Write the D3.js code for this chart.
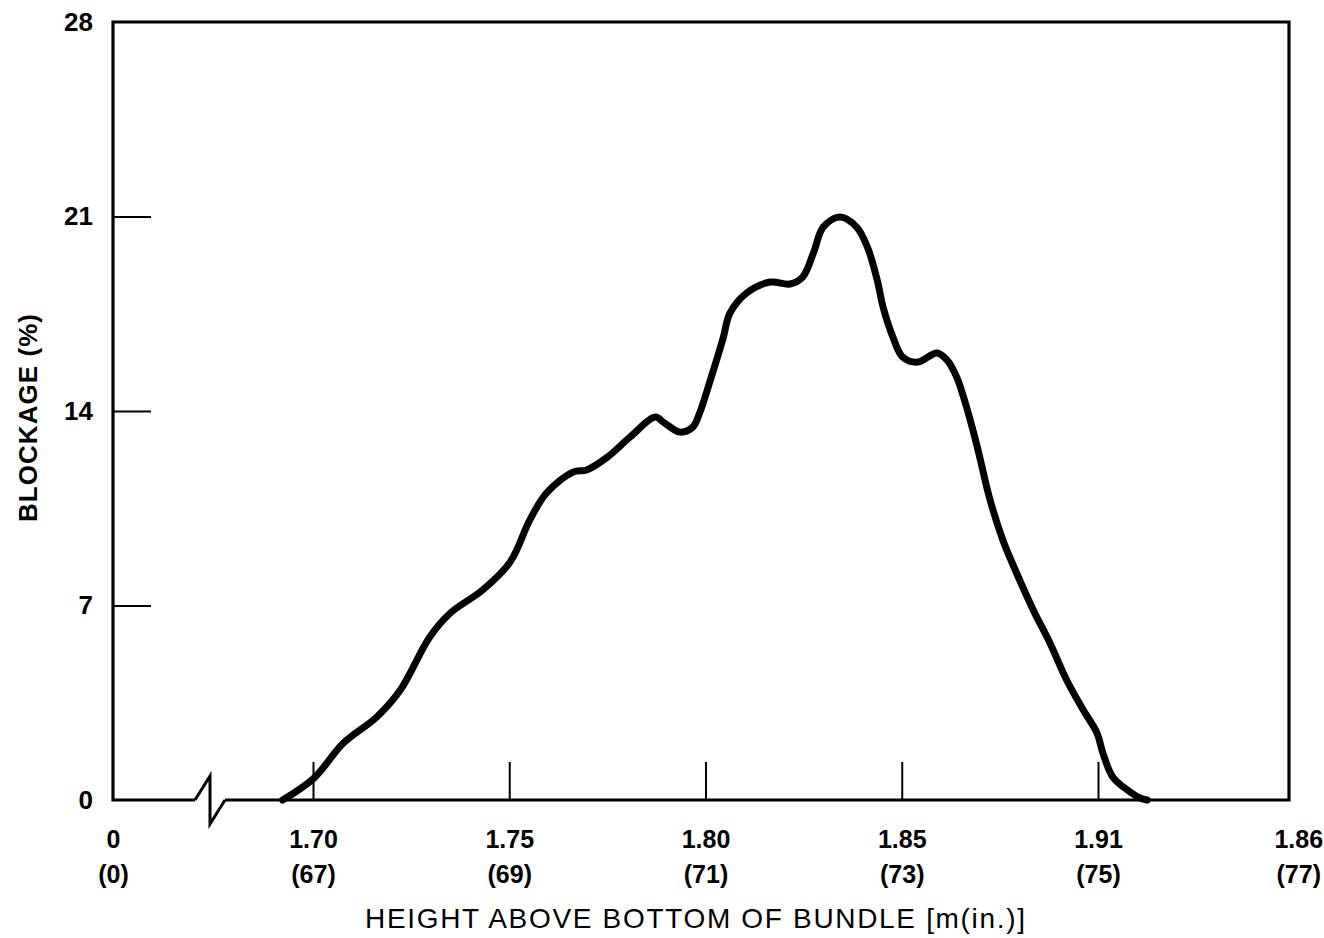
<!DOCTYPE html>
<html>
<head>
<meta charset="utf-8">
<script src="https://cdn.jsdelivr.net/npm/d3@7"></script>
<style>
  html, body { margin: 0; padding: 0; background: #fff; }
  svg { display: block; }
  text { font-family: "Liberation Sans", Arial, Helvetica, sans-serif; fill: #000; }
</style>
</head>
<body>
<script>
// ---- data ----
// height above bottom of bundle, inches
const heightIn = [66.69, 67.01, 67.31, 67.65, 67.89, 68.19, 68.40, 68.73, 69.01, 69.21,
  69.38, 69.65, 69.79, 70.00, 70.23, 70.49, 70.57, 70.74, 70.87, 70.94,
  71.05, 71.18, 71.25, 71.42, 71.66, 71.86, 71.99, 72.10, 72.20, 72.37,
  72.54, 72.65, 72.75, 72.81, 72.91, 73.01, 73.16, 73.36, 73.46, 73.56,
  73.66, 73.77, 73.90, 74.03, 74.17, 74.34, 74.51, 74.68, 74.85, 74.99,
  75.05, 75.15, 75.30, 75.43, 75.50];
// blockage, percent
const blockage = [0, 0.79, 2.05, 2.99, 3.96, 5.87, 6.73, 7.56, 8.57, 10.08,
  11.05, 11.80, 11.88, 12.34, 13.06, 13.78, 13.60, 13.24, 13.42, 13.93,
  15.12, 16.63, 17.53, 18.25, 18.64, 18.57, 18.82, 19.69, 20.62, 20.98,
  20.62, 19.90, 18.71, 17.74, 16.66, 15.94, 15.76, 16.09, 15.84, 15.22,
  14.14, 12.70, 10.80, 9.36, 8.17, 6.84, 5.65, 4.32, 3.24, 2.41,
  1.69, 0.83, 0.36, 0.07, 0];

const yTicks = [0, 7, 14, 21, 28];
const xTickInches = [0, 67, 69, 71, 73, 75, 77];
const xTickMeters = ["0", "1.70", "1.75", "1.80", "1.85", "1.91", "1.86"];
const xTitle = "HEIGHT ABOVE BOTTOM OF BUNDLE [m(in.)]";
const yTitle = "BLOCKAGE (%)";

// ---- layout ----
const W = 1324, H = 938;
const plotL = 113, plotR = 1289, plotT = 22, plotB = 800;

const svg = d3.select("body").append("svg").attr("width", W).attr("height", H);

const x = d3.scaleLinear().domain([67, 75]).range([313, 1098]);
const y = d3.scaleLinear().domain([0, 28]).range([plotB, plotT]);
const xPos = v => v === 0 ? x.invert(plotL) : v;

// ---- frame with axis break ----
const brk = 210;
const frame = d3.path();
frame.moveTo(brk + 15, plotB);
frame.lineTo(plotR, plotB);
frame.lineTo(plotR, plotT);
frame.lineTo(plotL, plotT);
frame.lineTo(plotL, plotB);
frame.lineTo(brk - 15, plotB);
svg.append("path").attr("d", frame.toString())
  .attr("fill", "none").attr("stroke", "#000").attr("stroke-width", 3.2)
  .attr("stroke-linejoin", "miter");
svg.append("path")
  .attr("d", `M${brk - 15},${plotB} L${brk},${plotB - 24} L${brk},${plotB + 24} L${brk + 15},${plotB}`)
  .attr("fill", "none").attr("stroke", "#000").attr("stroke-width", 3)
  .attr("stroke-linejoin", "miter");

// ---- y axis ----
const yAxis = d3.axisLeft(y).tickValues(yTicks).tickSizeInner(-38).tickSizeOuter(0).tickPadding(20)
  .tickFormat(d3.format("d"));
const gy = svg.append("g").attr("transform", `translate(${plotL},0)`).call(yAxis);
gy.select(".domain").remove();
gy.selectAll(".tick line").attr("stroke", "#000").attr("stroke-width", 2)
  .filter(d => d === 0 || d === 28).remove();
gy.selectAll(".tick text").attr("font-size", 26).attr("font-weight", "bold")
  .attr("font-family", "'Liberation Sans', Arial, sans-serif");

// ---- x axis ----
const xAxis = d3.axisBottom(x).tickValues(xTickInches.map(xPos)).tickSizeInner(-38).tickSizeOuter(0)
  .tickFormat(() => "");
const gx = svg.append("g").attr("transform", `translate(0,${plotB})`).call(xAxis);
gx.select(".domain").remove();
gx.selectAll(".tick line").attr("stroke", "#000").attr("stroke-width", 2)
  .filter((d, i) => i === 0 || i === xTickInches.length - 1).remove();
gx.selectAll(".tick text").each(function (d, i) {
  const t = d3.select(this).attr("y", 0).attr("dy", null)
    .attr("font-size", 25).attr("font-weight", "bold")
    .attr("font-family", "'Liberation Sans', Arial, sans-serif");
  const off = i === xTickInches.length - 1 ? 4 : 0;
  t.append("tspan").attr("x", off).attr("y", 48).text(xTickMeters[i]);
  t.append("tspan").attr("x", off).attr("y", 83).text(`(${xTickInches[i]})`);
});

// ---- titles ----
svg.append("text")
  .attr("x", 695).attr("y", 928)
  .attr("text-anchor", "middle")
  .attr("font-size", 28)
  .attr("textLength", 660).attr("lengthAdjust", "spacing")
  .text(xTitle);

svg.append("text")
  .attr("transform", "translate(37,418) rotate(-90)")
  .attr("text-anchor", "middle")
  .attr("font-size", 26).attr("font-weight", "bold")
  .attr("textLength", 208).attr("lengthAdjust", "spacing")
  .text(yTitle);

// ---- curve ----
const pts = heightIn.map((h, i) => [h, blockage[i]]);
const line = d3.line().x(d => x(d[0])).y(d => y(d[1])).curve(d3.curveCatmullRom.alpha(0.5));
svg.append("path").datum(pts)
  .attr("d", line)
  .attr("fill", "none").attr("stroke", "#000").attr("stroke-width", 7)
  .attr("stroke-linecap", "round").attr("stroke-linejoin", "round");
</script>
</body>
</html>
